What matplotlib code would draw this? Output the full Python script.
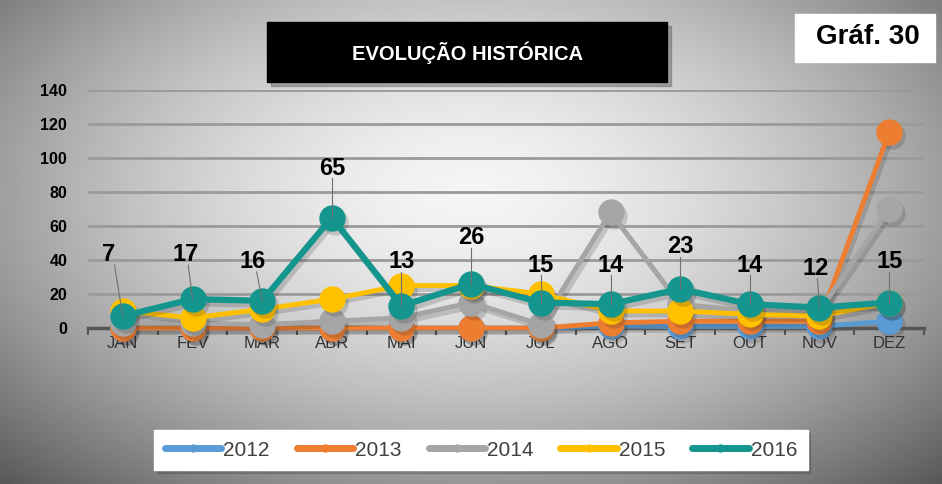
import matplotlib.pyplot as plt
import matplotlib.transforms as mtransforms
from matplotlib.patches import Rectangle
from matplotlib.lines import Line2D
from matplotlib import font_manager
import numpy as np

nombres = {f.name for f in font_manager.fontManager.ttflist}
estrecha = 'Liberation Sans Narrow' if 'Liberation Sans Narrow' in nombres else 'Liberation Sans'
plt.rcParams['font.family'] = ['Liberation Sans', 'DejaVu Sans']

# Datos
meses = ['JAN', 'FEV', 'MAR', 'ABR', 'MAI', 'JUN', 'JUL', 'AGO', 'SET', 'OUT', 'NOV', 'DEZ']
anos = ['2012', '2013', '2014', '2015', '2016']
v2012 = [0, 0, 0, 0, 0, 0, 0, 1, 1, 1, 1, 4]
v2013 = [0, 0, 0, 0, 0, 0, 0, 3, 4, 4, 4, 115]
v2014 = [3, 3, 2, 4, 6, 15, 2, 68, 14, 10, 10, 70]
v2015 = [10, 6, 11, 17, 25, 25, 20, 10, 10, 8, 7, 15]
v2016 = [7, 17, 16, 65, 13, 26, 15, 14, 23, 14, 12, 15]
series = [v2012, v2013, v2014, v2015, v2016]
colores = ['#5B9BD5', '#ED7D31', '#A5A5A5', '#FFC000', '#14968F']
yticks = [0, 20, 40, 60, 80, 100, 120, 140]

# Posicion de las etiquetas de 2016 (en unidades del eje)
etq_y = [43, 43, 39, 94, 39, 53, 37, 37, 48, 37, 35, 39]
etq_dx = [-0.2, -0.1, -0.13, 0, 0, 0, 0, 0, 0, 0, -0.05, 0]

fig = plt.figure(figsize=(9.42, 4.84), dpi=100)

# Fondo degradado radial
bg = fig.add_axes([0, 0, 1, 1], zorder=-10)
yy, xx = np.mgrid[-1:1:300j, -1:1:600j]
rr = np.sqrt((xx / 1.15) ** 2 + ((yy + 0.2) / 1.3) ** 2)
bg.imshow(0.96 - 0.42 * rr ** 1.6, cmap='gray', vmin=0, vmax=1, aspect='auto',
          extent=[0, 1, 0, 1])
bg.set_xlim(0, 1)
bg.set_ylim(0, 1)
bg.axis('off')

# Caja del titulo
bg.add_patch(Rectangle((271 / 942, 1 - 86 / 484), 400 / 942, 60 / 484, color='#444444', alpha=0.35))
bg.add_patch(Rectangle((267 / 942, 1 - 82 / 484), 400 / 942, 60 / 484, color='black'))
bg.text(467 / 942, 1 - 53 / 484, 'EVOLUÇÃO HISTÓRICA', color='white', fontsize=14.5,
        fontweight='bold', ha='center', va='center', family=estrecha)
bg.add_patch(Rectangle((795 / 942, 1 - 62 / 484), 140 / 942, 48 / 484, color='white'))
bg.text(868 / 942, 1 - 37 / 484, 'Gráf. 30', color='black', fontsize=20,
        fontweight='bold', ha='center', va='center', family=estrecha)

ax = fig.add_axes([88 / 942, 1 - 328 / 484, 836 / 942, 238 / 484])
ax.patch.set_alpha(0)
x = np.arange(len(meses))
sombra_tr = mtransforms.offset_copy(ax.transData, fig=fig, x=3, y=-4, units='dots')
for i, (vals, col, nom) in enumerate(zip(series, colores, anos)):
    lw = 4.5 if i == 4 else 3.5
    ax.plot(x, vals, '-o', color='#222222', alpha=0.18, lw=lw, ms=19, mew=0,
            transform=sombra_tr, zorder=2.5 + i, clip_on=False)
    ax.plot(x, vals, '-o', color=col, lw=lw, ms=19, mew=0, label=nom, zorder=3 + i,
            clip_on=False)

# Etiquetas de datos 2016
for xi, v, ey, dx in zip(x, v2016, etq_y, etq_dx):
    ax.plot([xi + dx * 0.6, xi], [ey - 6, v], color='#707070', lw=0.8, zorder=9)
    ax.text(xi + dx, ey, str(v), fontsize=17, fontweight='bold',
            ha='center', va='center', zorder=10)

ax.set_xlim(-0.5, 11.5)
ax.set_ylim(0, 140)
ax.set_yticks(yticks)
ax.set_yticklabels([str(t) for t in yticks], fontsize=11.5, fontweight='bold')
ax.set_xticks(x)
ax.set_xticklabels(meses, fontsize=12, color='#333333', family=estrecha)
ax.tick_params(axis='x', length=0, pad=6)
ax.tick_params(axis='y', length=0, pad=15)
ax.set_xticks(np.arange(-0.5, 12, 1), minor=True)
ax.tick_params(axis='x', which='minor', length=5, color='#555555', width=1.5)
for t in yticks[1:]:
    ax.axhline(t, color='#9a9a9a', lw=2, zorder=1)
for s in ['top', 'right', 'left']:
    ax.spines[s].set_visible(False)
ax.spines['bottom'].set_color('#555555')
ax.spines['bottom'].set_linewidth(2.5)

asas = [Line2D([0], [0], color=c, lw=5, marker='o', ms=5, solid_capstyle='round')
        for c in colores]
leg = fig.legend(asas, anos, loc='center', bbox_to_anchor=(481 / 942, 1 - 450 / 484), ncol=5,
                 prop={'family': estrecha, 'size': 15}, frameon=True, fancybox=False,
                 edgecolor='white', handlelength=2.7, handletextpad=0.1, columnspacing=1.3,
                 borderpad=0.5, shadow={'color': '#444444', 'alpha': 0.3})
leg.get_frame().set_alpha(1)
for t in leg.get_texts():
    t.set_color('#404040')

fig.savefig('out.png', dpi=100)
